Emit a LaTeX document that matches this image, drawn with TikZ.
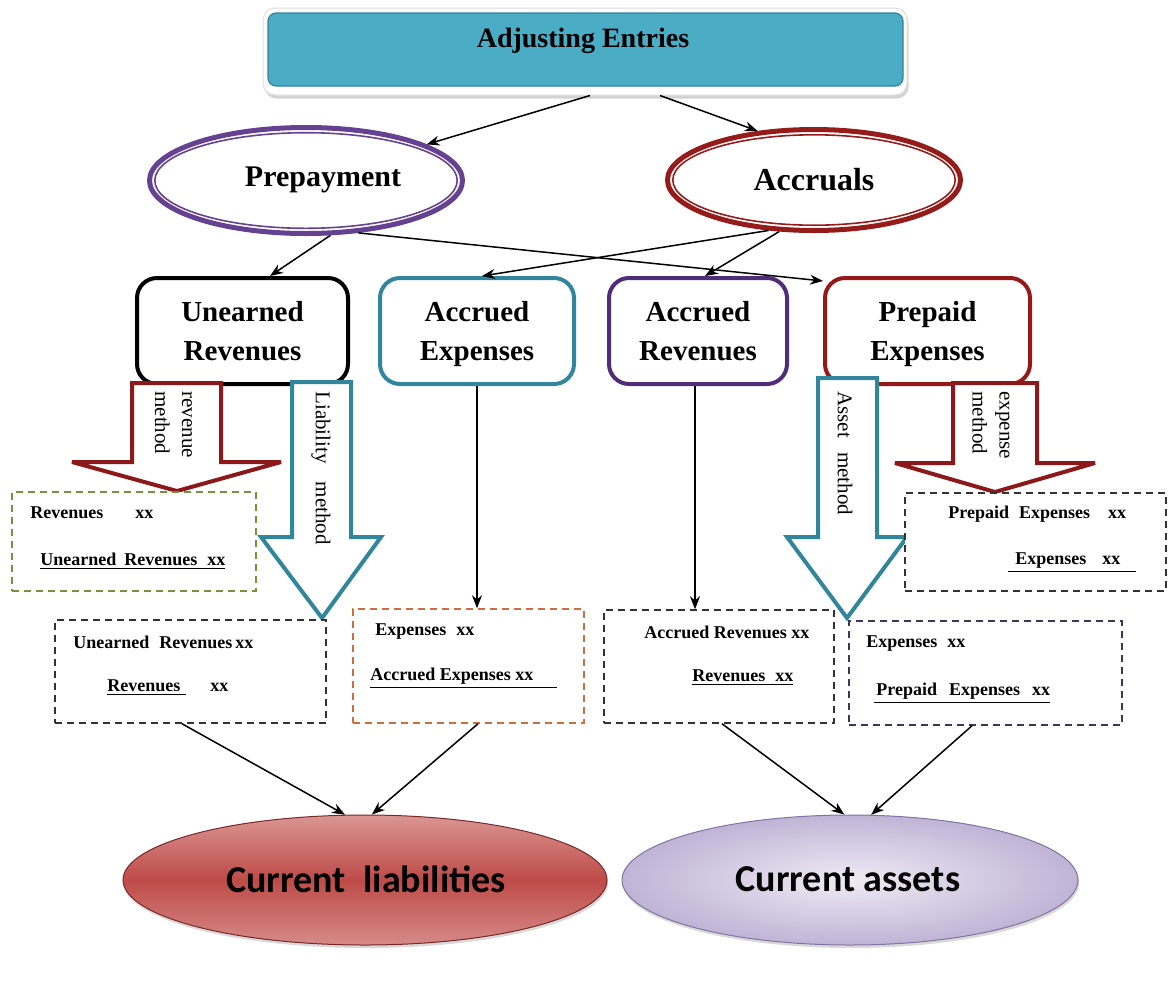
\documentclass[tikz,border=0pt]{standalone}
\usepackage{fontspec}
\setmainfont{Liberation Serif}
\newfontfamily\carlitofont{Carlito}
\usetikzlibrary{arrows.meta,shapes.geometric,shadows}

\definecolor{tealfill}{RGB}{75,172,198}
\definecolor{tealline}{RGB}{49,133,156}
\definecolor{prepurple}{RGB}{100,65,145}
\definecolor{accred}{RGB}{150,28,28}
\definecolor{arpurple}{RGB}{80,45,120}
\definecolor{ppred}{RGB}{150,25,25}
\definecolor{methred}{RGB}{140,25,25}
\definecolor{dgreen}{RGB}{118,146,60}
\definecolor{dorange}{RGB}{205,110,60}
\definecolor{dnavy}{RGB}{55,55,95}
\definecolor{dgray}{RGB}{50,50,50}
\definecolor{liabmid}{RGB}{190,75,72}
\definecolor{liablight}{RGB}{218,150,148}
\definecolor{liabedge}{RGB}{120,40,38}
\definecolor{assetlight}{RGB}{238,235,244}
\definecolor{assetdark}{RGB}{192,180,214}
\definecolor{assetedge}{RGB}{130,115,160}

\begin{document}
\begin{tikzpicture}[x=0.5pt,y=-0.5pt,
  conn/.style={-{Stealth[length=6.5pt,width=5pt]},line width=0.75pt,black},
  catbox/.style={rectangle,rounded corners=10pt,line width=2pt,fill=white,
    minimum height=53pt,inner sep=0pt,align=center,text depth=0pt,
    font=\fontsize{14.5}{19.5}\selectfont\bfseries},
  journal/.style={rectangle,draw,line width=0.75pt,dash pattern=on 3.5pt off 2.5pt,
    fill=white,inner sep=0pt},
  entry/.style={anchor=west,inner sep=0pt,font=\fontsize{9}{10}\selectfont\bfseries},
  blockarrow/.style={fill=white,line width=2pt,line join=miter,miter limit=3},
  arrowtext/.style={rotate=-90,anchor=west,inner sep=0pt,align=left,
    font=\fontsize{10.5}{13.5}\selectfont},
  ring/.style={ellipse,inner sep=0pt,line width=2.5pt,fill=white},
  ringtext/.style={inner sep=0pt,font=\fontsize{15}{18}\selectfont\bfseries},
  total/.style={ellipse,inner sep=0pt,minimum height=65pt,
    font=\carlitofont\fontsize{19}{22}\selectfont\bfseries}
]
\useasboundingbox (0,0) rectangle (1168,981);

% ---- header ----
\node[rectangle,rounded corners=6pt,fill=white,draw=black!12,line width=0.5pt,
      minimum width=322pt,minimum height=43.5pt,
      drop shadow={opacity=0.35,shadow xshift=0.8pt,shadow yshift=-1.8pt}]
      (topframe) at (585,51.5) {};
\node[rectangle,rounded corners=4pt,fill=tealfill,draw=tealline,line width=0.6pt,
      minimum width=317.5pt,minimum height=36.5pt] (top) at (585.5,49.5) {};
\node[inner sep=0pt,font=\fontsize{14}{16}\selectfont\bfseries] (toptxt) at (583,41) {Adjusting Entries};

% ---- two families ----
\node[ring,draw=prepurple,minimum width=156.5pt,minimum height=53pt] (pre) at (306,180.5) {};
\draw[prepurple,line width=0.8pt] (pre.center) ellipse [x radius=75.6pt,y radius=23.9pt];
\node[ringtext] (pretxt) at (323,180) {Prepayment};

\node[ring,draw=accred,minimum width=146.5pt,minimum height=50.5pt] (acc) at (814,180) {};
\draw[accred,line width=0.8pt] (acc.center) ellipse [x radius=70.6pt,y radius=22.6pt];
\node[ringtext,font=\fontsize{16}{18}\selectfont\bfseries] (acctxt) at (814,180) {Accruals};

% ---- four categories ----
\node[catbox,draw=black,minimum width=105.5pt] (un) at (242.5,331) {Unearned\\Revenues};
\node[catbox,draw=tealline,minimum width=97pt] (ae) at (477,331) {Accrued\\Expenses};
\node[catbox,draw=arpurple,minimum width=89pt] (ar) at (698,331) {Accrued\\Revenues};
\node[catbox,draw=ppred,minimum width=102.5pt] (pp) at (927.5,331) {Prepaid\\Expenses};

% ---- connectors at the top ----
\draw[conn] ([xshift=2.5pt]topframe.south) -- (pre);
\draw[conn] ([xshift=37.5pt]topframe.south) -- (acc.139);
\draw[conn] (pre.-66) -- ([xshift=13.75pt]un.north);
\draw[conn] (pre.-45) -- ([yshift=-2.5pt]pp.north west);
\draw[conn] (acc.-132) -- ([xshift=2.5pt]ae.north);
\draw[conn] (acc.-124) -- ([xshift=3.5pt]ar.north);

% ---- method block arrows ----
\draw[blockarrow,draw=methred]
  (132,383) -- (132,462) -- (72,462) -- (177,491) -- (281,462) -- (221,462) -- (221,383) -- cycle;
\draw[blockarrow,draw=tealline]
  (292,382) -- (292,537) -- (261,537) -- (322,618) -- (381,537) -- (351,537) -- (351,382) -- cycle;
\draw[blockarrow,draw=tealline]
  (818,378) -- (818,537) -- (787,537) -- (847,618) -- (907,537) -- (877,537) -- (877,378) -- cycle;
\draw[blockarrow,draw=methred]
  (953,383) -- (953,463) -- (895,463) -- (995,492) -- (1095,463) -- (1037,463) -- (1037,383) -- cycle;

\node[arrowtext] (revtxt) at (173.5,391) {revenue\\method};
\node[arrowtext] (libtxt) at (321,391) {Liability\hspace{9pt}method};
\node[arrowtext] (asstxt) at (845,391) {Asset\hspace{7pt}method};
\node[arrowtext] (exptxt) at (991,391) {expense\\method};

% ---- journal entries ----
\node[journal,draw=dgreen,minimum width=122pt,minimum height=49.5pt] (jrev) at (134,541.5) {};
\node[entry] (jrev1) at (30,513) {Revenues\hspace{16pt}xx};
\node[entry] (jrev2) at (40,561) {\underline{Unearned\hspace{4pt}Revenues\hspace{5pt}xx}};

\node[journal,draw=dgray,minimum width=135.5pt,minimum height=51.5pt] (jlia) at (190.5,671.5) {};
\node[entry] (jlia1) at (73,642) {Unearned\hspace{5pt}Revenues\hspace{1.5pt}xx};
\node[entry] (jlia2) at (107,688) {\underline{Revenues\hspace{3pt}}\hspace{12pt}xx};

\node[journal,draw=dorange,minimum width=115.5pt,minimum height=57pt] (jae) at (468.5,666) {};
\node[entry] (jae1) at (375,632) {Expenses\hspace{5pt}xx};
\node[entry] (jae2) at (370,678) {\underline{Accrued Expenses xx\hspace{12pt}}};

\node[journal,draw=dgray,minimum width=115pt,minimum height=56.5pt] (jar) at (719,666.5) {};
\node[entry] (jar1) at (644,632) {Accrued Revenues xx};
\node[entry] (jar2) at (692,678) {\underline{Revenues\hspace{5pt}xx}};

\node[journal,draw=dnavy,minimum width=136.5pt,minimum height=52pt] (jass) at (985.5,673) {};
\node[entry] (jass1) at (866,644) {Expenses\hspace{5pt}xx};
\node[entry] (jass2) at (874,693) {\underline{\hspace{1pt}Prepaid\hspace{6pt}Expenses\hspace{6pt}xx}};

\node[journal,draw=dgray,minimum width=130.5pt,minimum height=49pt] (jexp) at (1035.5,542) {};
\node[entry] (jexp1) at (948,514) {Prepaid\hspace{5pt}Expenses\hspace{9pt}xx};
\node[entry] (jexp2) at (1008,563) {\underline{\hspace{3.5pt}Expenses\hspace{8pt}xx\hspace{8pt}}};

% ---- straight accrual postings ----
\coordinate (aebot) at (ae.south);
\coordinate (arbot) at ([xshift=-1.5pt]ar.south);
\draw[conn] (aebot) -- (aebot |- jae.north);
\draw[conn] (arbot) -- (arbot |- jar.north);

% ---- balance sheet totals ----
\node[total,minimum width=242pt,draw=liabedge,line width=0.5pt,
      top color=liablight,bottom color=liablight!85!liabmid,middle color=liabmid,
      drop shadow={opacity=0.3,shadow xshift=0.5pt,shadow yshift=-1.5pt}]
      (cl) at (365,880) {};
\node[total] (cltxt) at (366,879) {Current\hspace{9pt}liabilities};

\node[total,minimum width=228pt,draw=assetedge,line width=0.5pt,
      inner color=assetlight,outer color=assetdark,
      drop shadow={opacity=0.3,shadow xshift=0.5pt,shadow yshift=-1.5pt}]
      (ca) at (850,880) {};
\node[total] (catxt) at (848,879) {Current assets};

\draw[conn] ([xshift=-4.25pt]jlia.south) -- (cl.107);
\draw[conn] ([xshift=4.75pt]jae.south) -- (cl.84);
\draw[conn] ([xshift=1.5pt]jar.south) -- (ca.95);
\draw[conn] ([xshift=-6.75pt]jass.south) -- (ca.72);
\end{tikzpicture}
\end{document}
